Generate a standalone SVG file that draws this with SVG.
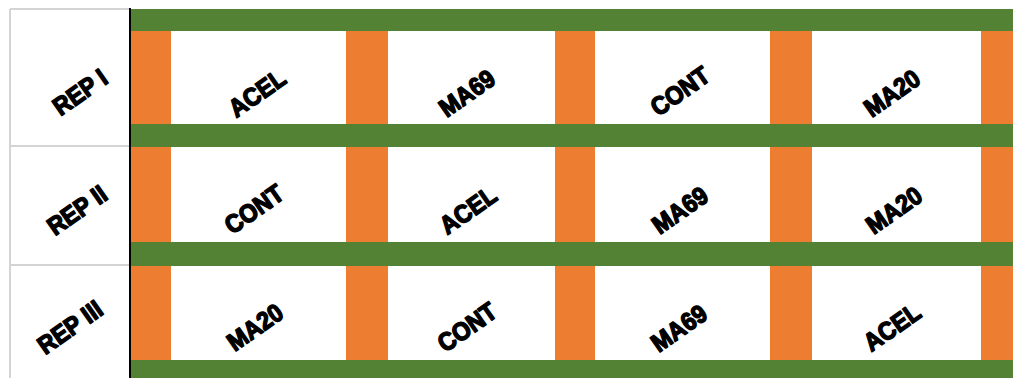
<svg xmlns="http://www.w3.org/2000/svg" width="1013" height="378" viewBox="0 0 1013 378">
<style>
.g{fill:#548235}
.o{fill:#ED7D31}
.grid{stroke:#D4D4D4;stroke-width:2;fill:none}
text{font-family:"Liberation Sans",Arial,sans-serif;font-weight:bold;font-size:22px;fill:#000;stroke:#000;stroke-width:1.3;stroke-linejoin:round;text-anchor:middle;dominant-baseline:central}
</style>
<rect width="1013" height="378" fill="#fff"/>
<g id="grid">
<path class="grid" d="M10,9V378M10,9H130M10,146H130M10,265H130"/>
</g>
<g id="field">
<rect class="o" x="131" y="29" width="40" height="349"/>
<rect class="o" x="346" y="29" width="42" height="349"/>
<rect class="o" x="555" y="29" width="40" height="349"/>
<rect class="o" x="770" y="29" width="42" height="349"/>
<rect class="o" x="981" y="29" width="32" height="349"/>
<rect class="g" x="130" y="9" width="883" height="22"/>
<rect class="g" x="130" y="124" width="883" height="23"/>
<rect class="g" x="130" y="242" width="883" height="24"/>
<rect class="g" x="130" y="360" width="883" height="18"/>
<line x1="130" y1="8" x2="130" y2="378" stroke="#000" stroke-width="2"/>
</g>
<g id="labels">
<text transform="translate(80,92) rotate(-35) scale(1.05,1.15)">REP I</text>
<text transform="translate(77,210) rotate(-35) scale(1.05,1.15)">REP II</text>
<text transform="translate(70,327) rotate(-35) scale(1.05,1.15)">REP III</text>
<text transform="translate(257,93) rotate(-35) scale(1.05,1.15)">ACEL</text>
<text transform="translate(467,93) rotate(-35) scale(1.05,1.15)">MA69</text>
<text transform="translate(680,91) rotate(-35) scale(1.05,1.15)">CONT</text>
<text transform="translate(892,93) rotate(-35) scale(1.05,1.15)">MA20</text>
<text transform="translate(254,209) rotate(-35) scale(1.05,1.15)">CONT</text>
<text transform="translate(468,210) rotate(-35) scale(1.05,1.15)">ACEL</text>
<text transform="translate(680,210) rotate(-35) scale(1.05,1.15)">MA69</text>
<text transform="translate(894,210) rotate(-35) scale(1.05,1.15)">MA20</text>
<text transform="translate(255,327) rotate(-35) scale(1.05,1.15)">MA20</text>
<text transform="translate(467,327) rotate(-35) scale(1.05,1.15)">CONT</text>
<text transform="translate(679,328) rotate(-35) scale(1.05,1.15)">MA69</text>
<text transform="translate(892,327) rotate(-35) scale(1.05,1.15)">ACEL</text>
</g>
</svg>
